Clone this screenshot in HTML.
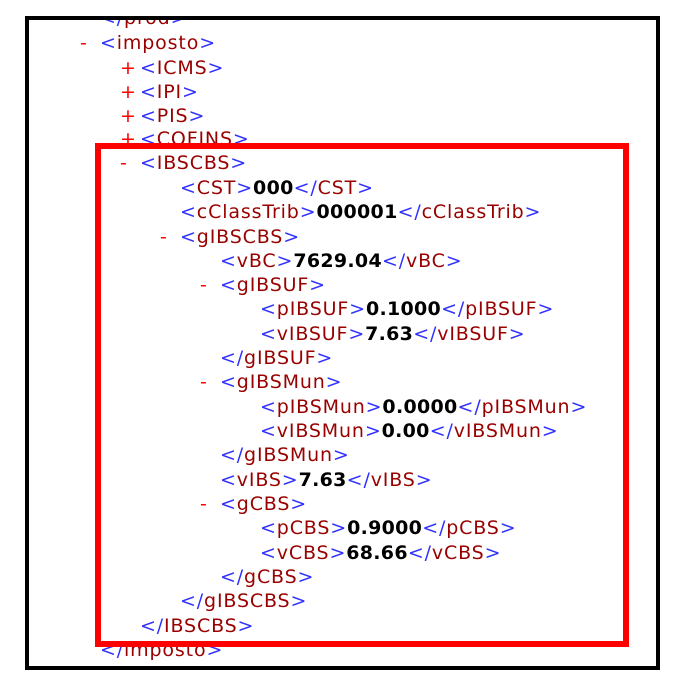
<!DOCTYPE html>
<html><head><meta charset="utf-8"><style>
html,body{margin:0;padding:0;background:#fff;width:678px;height:684px;overflow:hidden}
#frame{position:absolute;left:25px;top:16px;width:627px;height:646px;border:4px solid #000;overflow:hidden}
.l{position:absolute;white-space:nowrap;font-family:"DejaVu Sans","Liberation Sans",sans-serif;font-size:19px;letter-spacing:0.85px;line-height:24px;height:24px}
.b{color:#3030ff}.t{color:#990000}.m{color:#ff0000;position:absolute}
.v{color:#000;font-weight:bold;letter-spacing:0.3px}
#red{position:absolute;left:95px;top:143px;width:522px;height:492px;border:6px solid #ff0000}
</style></head><body>
<div id="frame">
<div id="c" style="position:absolute;left:-29px;top:-20px;width:700px;height:700px"></div>
</div>
<div id="red"></div>
<script>
var L=[
[18,100,null,'</prod>'],
[43,100,'-','<imposto>'],
[68,140,'+','<ICMS>'],
[92,140,'+','<IPI>'],
[116,140,'+','<PIS>'],
[139,140,'+','<COFINS>'],
[163,140,'-','<IBSCBS>'],
[188,180,null,'<CST>','000','</CST>'],
[212,180,null,'<cClassTrib>','000001','</cClassTrib>'],
[237,180,'-','<gIBSCBS>'],
[261,220,null,'<vBC>','7629.04','</vBC>'],
[285,220,'-','<gIBSUF>'],
[309,260,null,'<pIBSUF>','0.1000','</pIBSUF>'],
[334,260,null,'<vIBSUF>','7.63','</vIBSUF>'],
[358,220,null,'</gIBSUF>'],
[382,220,'-','<gIBSMun>'],
[407,260,null,'<pIBSMun>','0.0000','</pIBSMun>'],
[431,260,null,'<vIBSMun>','0.00','</vIBSMun>'],
[455,220,null,'</gIBSMun>'],
[480,220,null,'<vIBS>','7.63','</vIBS>'],
[504,220,'-','<gCBS>'],
[528,260,null,'<pCBS>','0.9000','</pCBS>'],
[553,260,null,'<vCBS>','68.66','</vCBS>'],
[577,220,null,'</gCBS>'],
[601,180,null,'</gIBSCBS>'],
[626,140,null,'</IBSCBS>'],
[650,100,null,'</imposto>']
];
function tag(s){var close=s[1]=='/';var name=s.slice(close?2:1,-1);
return '<span class="b">&lt;'+(close?'/':'')+'</span><span class="t">'+name+'</span><span class="b">&gt;</span>';}
var h='';
L.forEach(function(r){
var y=r[0]-12,x=r[1];
if(r[2])h+='<div class="l m" style="left:'+(x-20)+'px;top:'+y+'px">'+r[2]+'</div>';
var s=tag(r[3]);
if(r[4])s+='<span class="v">'+r[4]+'</span>'+tag(r[5]);
h+='<div class="l" style="left:'+x+'px;top:'+y+'px">'+s+'</div>';
});
document.getElementById('c').innerHTML=h;
</script>
</body></html>
